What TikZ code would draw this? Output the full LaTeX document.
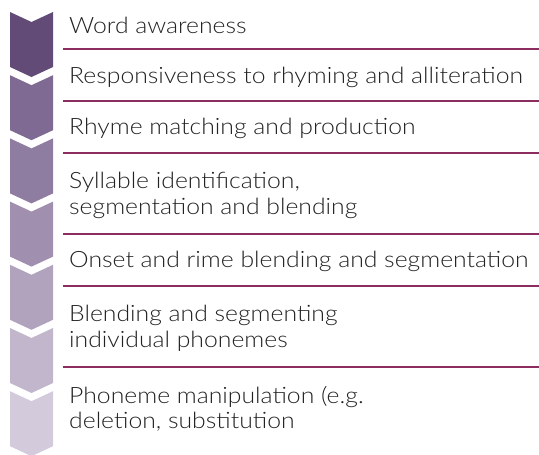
\documentclass[tikz,border=0pt]{standalone}
\usepackage{fontspec}
\setmainfont{Lato Light}[FakeStretch=1.1]
\definecolor{seg1}{HTML}{634B78}
\definecolor{seg2}{HTML}{7F6A93}
\definecolor{seg3}{HTML}{8F7CA1}
\definecolor{seg4}{HTML}{A08FAF}
\definecolor{seg5}{HTML}{B1A3BE}
\definecolor{seg6}{HTML}{C1B6CC}
\definecolor{seg7}{HTML}{D3CADC}
\definecolor{rulecol}{HTML}{8C2D5F}
\definecolor{ink}{HTML}{222222}
\tikzset{
  chev/.style={fill=#1, draw=none},
  stage/.style={anchor=base west, inner sep=0pt, align=left, text=ink,
    font=\fontsize{22.5}{25.5}\selectfont},
  sep/.style={draw=rulecol, line width=1.1pt}
}
\begin{document}
\begin{tikzpicture}[x=1pt,y=-1pt]
\useasboundingbox (0,0) rectangle (539,455);

% chevron column
\path[chev=seg1] (10,12) -- (31.5,22) -- (53,12) -- (53,67) -- (31.5,77) -- (10,67) -- cycle;
\path[chev=seg2] (10,75.2) -- (31.5,85.2) -- (53,75.2) -- (53,130.2) -- (31.5,140.2) -- (10,130.2) -- cycle;
\path[chev=seg3] (10,138.4) -- (31.5,148.4) -- (53,138.4) -- (53,193.4) -- (31.5,203.4) -- (10,193.4) -- cycle;
\path[chev=seg4] (10,201.6) -- (31.5,211.6) -- (53,201.6) -- (53,256.6) -- (31.5,266.6) -- (10,256.6) -- cycle;
\path[chev=seg5] (10,264.8) -- (31.5,274.8) -- (53,264.8) -- (53,319.8) -- (31.5,329.8) -- (10,319.8) -- cycle;
\path[chev=seg6] (10,328) -- (31.5,338) -- (53,328) -- (53,383) -- (31.5,393) -- (10,383) -- cycle;
\path[chev=seg7] (10,391.2) -- (31.5,401.2) -- (53,391.2) -- (53,446.2) -- (31.5,456.2) -- (10,446.2) -- cycle;

% stages (base = last line)
\node[stage] (aware) at (69,33) {Word awareness};
\node[stage] (respond) at (69,83) {Responsiveness to rhyming and alliteration};
\node[stage] (match) at (69,134.5) {Rhyme matching and production};
\node[stage] (syll) at (69,214) {Syllable identification,\\segmentation and blending};
\node[stage] (onset) at (69,267.5) {Onset and rime blending and segmentation};
\node[stage] (blend) at (69,347) {Blending and segmenting\\individual phonemes};
\node[stage] (manip) at (69,428.5) {Phoneme manipulation (e.g.\\deletion, substitution};

% separators
\path[sep] (63,49) -- (539,49);
\path[sep] (63,101) -- (539,101);
\path[sep] (63,153) -- (539,153);
\path[sep] (63,234) -- (539,234);
\path[sep] (63,286) -- (539,286);
\path[sep] (63,367) -- (539,367);
\end{tikzpicture}
\end{document}
